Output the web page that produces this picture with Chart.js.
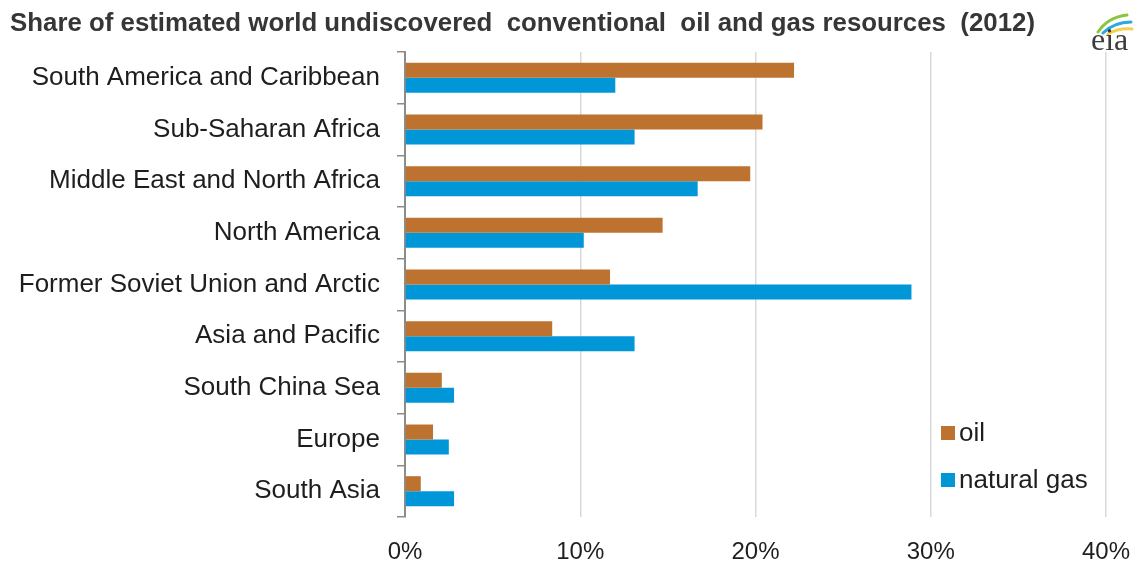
<!DOCTYPE html>
<html>
<head>
<meta charset="utf-8">
<script src="https://cdn.jsdelivr.net/npm/chart.js@4.4.0/dist/chart.umd.min.js"></script>
<style>
  html, body { margin: 0; padding: 0; background: #fff; overflow: hidden; }
  #wrap { width: 1136px; height: 565px; }
  canvas { display: block; }
</style>
</head>
<body>
<div id="wrap"><canvas id="resourceChart" width="1136" height="565"></canvas></div>
<script>
var categories = [
  'South America and Caribbean',
  'Sub-Saharan Africa',
  'Middle East and North Africa',
  'North America',
  'Former Soviet Union and Arctic',
  'Asia and Pacific',
  'South China Sea',
  'Europe',
  'South Asia'
];
var oilShare = [22.2, 20.4, 19.7, 14.7, 11.7, 8.4, 2.1, 1.6, 0.9];
var gasShare = [12.0, 13.1, 16.7, 10.2, 28.9, 13.1, 2.8, 2.5, 2.8];
var xTicks = [0, 10, 20, 30, 40];
var seriesNames = ['oil', 'natural gas'];
var titleText = 'Share of estimated world undiscovered  conventional  oil and gas resources  (2012)';

var OIL_COLOR = '#bd732f';
var GAS_COLOR = '#0096d8';
var TEXT_COLOR = '#1e1e1e';
var LABEL_FONT = '"Liberation Sans", Arial, sans-serif';

// title + eia mark drawn on top
var headerPlugin = {
  id: 'header',
  afterDraw: function(chart) {
    var ctx = chart.ctx;
    ctx.save();
    ctx.fillStyle = '#363636';
    ctx.font = 'bold 26px "Liberation Sans Narrow", "Liberation Sans", Arial, sans-serif';
    ctx.textBaseline = 'alphabetic';
    ctx.textAlign = 'left';
    var w = ctx.measureText(titleText).width;
    var targetW = 1025;
    ctx.translate(10, 31);
    ctx.scale(targetW / w, 1);
    ctx.fillText(titleText, 0, 0);
    ctx.restore();

    // eia logo
    ctx.save();
    ctx.lineWidth = 3;
    ctx.lineCap = 'round';
    ctx.strokeStyle = '#8cc63f';
    ctx.beginPath();
    ctx.moveTo(1098, 32);
    ctx.quadraticCurveTo(1108, 17, 1127, 15);
    ctx.stroke();
    ctx.strokeStyle = '#29a9e0';
    ctx.beginPath();
    ctx.moveTo(1103, 33);
    ctx.quadraticCurveTo(1114, 22, 1131, 22);
    ctx.stroke();
    ctx.strokeStyle = '#f2d24a';
    ctx.beginPath();
    ctx.moveTo(1108, 34);
    ctx.quadraticCurveTo(1118, 28, 1132, 29);
    ctx.stroke();
    ctx.fillStyle = '#3c3c3c';
    ctx.font = '32px "Liberation Serif", "DejaVu Serif", serif';
    ctx.textAlign = 'left';
    ctx.fillText('eia', 1091, 50);
    ctx.restore();
  }
};

// legend sitting inside the plot, lower right
var legendPlugin = {
  id: 'innerLegend',
  afterDraw: function(chart) {
    var ctx = chart.ctx;
    var items = [
      { label: seriesNames[0], color: OIL_COLOR, y: 433 },
      { label: seriesNames[1], color: GAS_COLOR, y: 480 }
    ];
    ctx.save();
    ctx.font = '26px ' + LABEL_FONT;
    ctx.textBaseline = 'middle';
    ctx.textAlign = 'left';
    items.forEach(function(it) {
      ctx.fillStyle = it.color;
      ctx.fillRect(941, it.y - 7, 14, 14);
      ctx.fillStyle = TEXT_COLOR;
      ctx.fillText(it.label, 959, it.y + 1);
    });
    ctx.restore();
  }
};

new Chart(document.getElementById('resourceChart'), {
  type: 'bar',
  data: {
    labels: categories,
    datasets: [{
      label: seriesNames[0],
      data: oilShare,
      backgroundColor: OIL_COLOR,
      borderWidth: 0,
      categoryPercentage: 0.58,
      barPercentage: 1.0
    }, {
      label: seriesNames[1],
      data: gasShare,
      backgroundColor: GAS_COLOR,
      borderWidth: 0,
      categoryPercentage: 0.58,
      barPercentage: 1.0
    }]
  },
  options: {
    indexAxis: 'y',
    responsive: false,
    animation: false,
    layout: { padding: { top: 52, right: 30, bottom: 0, left: 0 } },
    scales: {
      x: {
        min: xTicks[0],
        max: xTicks[xTicks.length - 1],
        afterBuildTicks: function(scale) {
          scale.ticks = xTicks.map(function(v) { return { value: v }; });
        },
        afterFit: function(scale) {
          scale.height = 48;
          scale.paddingLeft = 0;
          scale.paddingRight = 0;
        },
        ticks: {
          callback: function(v) { return v + '%'; },
          font: { size: 24, family: LABEL_FONT },
          color: TEXT_COLOR,
          padding: 21,
          maxRotation: 0
        },
        grid: {
          color: function(ctx) { return ctx.tick && ctx.tick.value === 0 ? 'rgba(0,0,0,0)' : '#d9d9d9'; },
          lineWidth: 1.5,
          drawTicks: false
        },
        border: { display: false }
      },
      y: {
        afterFit: function(scale) { scale.width = 405; },
        ticks: {
          font: { size: 26, family: LABEL_FONT },
          color: TEXT_COLOR,
          padding: 17
        },
        grid: {
          drawOnChartArea: false,
          offset: true,
          tickLength: 8,
          color: '#8c8c8c',
          lineWidth: 1.5
        },
        border: { color: '#8c8c8c', width: 2 }
      }
    },
    plugins: {
      legend: { display: false },
      title: { display: false },
      tooltip: { enabled: false }
    }
  },
  plugins: [headerPlugin, legendPlugin]
});
</script>
</body>
</html>
